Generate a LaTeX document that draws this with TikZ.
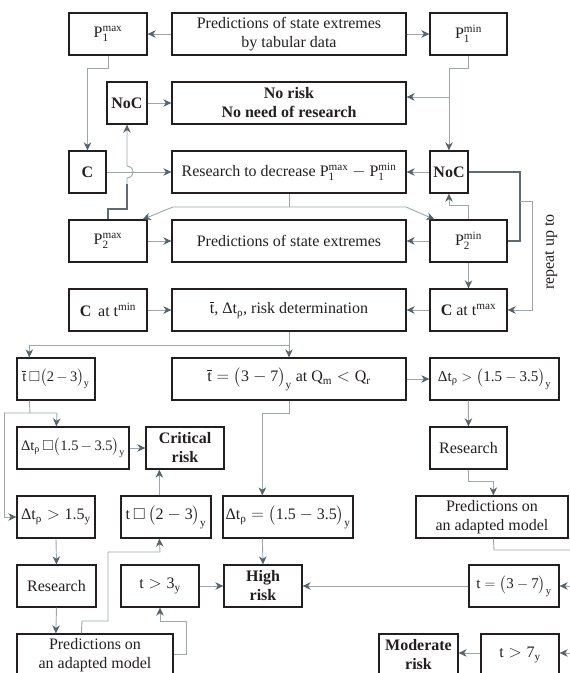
\documentclass[tikz,border=0pt]{standalone}
\usepackage{fontspec}
\usepackage{amsmath,amssymb}
\setmainfont{Liberation Serif}
\usetikzlibrary{arrows.meta,calc}
\definecolor{linec}{HTML}{9EA6AA}
\definecolor{thickc}{HTML}{5F6B73}
\definecolor{tipc}{HTML}{56636B}
\definecolor{boxc}{HTML}{231F20}
\newcommand\tn[1]{\text{#1}}
\newcommand\Dt{\tn{Δt}_{\tn{ρ}}}
\newcommand\Pp[2]{\tn{P}_{\tn{#1}}^{\tn{#2}}}
\newcommand\mi{\mkern-1mu-\mkern-1mu}
\newcommand\tb{\overline{\tn{t}}}
\begin{document}
\begin{tikzpicture}[x=1pt,y=-1pt,
  box/.style={draw=boxc, line width=1.3pt, minimum height=42pt, inner sep=0pt, align=center, font=\fontsize{16}{19}\selectfont, text=boxc},
  bbox/.style={box, font=\fontsize{16}{19}\selectfont\bfseries},
  tight/.style={box, font=\fontsize{14.5}{17}\selectfont},
  conn/.style={draw=linec, line width=0.9pt},
  thk/.style={draw=thickc, line width=2pt},
  arr/.style={-{Stealth[length=8pt,width=7.5pt,inset=2.5pt,color=tipc]}},
]
\useasboundingbox (0,0) rectangle (570,673);
\clip (0,0) rectangle (570,673);
% row 1
\node[box, minimum width=78pt] (p1max) at (108,34) {$\Pp{1}{max}$};
\node[box, minimum width=234pt] (predtop) at (289,34) {Predictions of state extremes\\by tabular data};
\node[box, minimum width=77pt] (p1min) at (468.5,34) {$\Pp{1}{min}$};
% row 2
\node[bbox, minimum width=40pt] (noc1) at (127,103) {NoC};
\node[bbox, minimum width=234pt] (norisk) at (289,103) {No risk\\No need of research};
% row 3
\node[bbox, minimum width=37pt] (cbox) at (87.5,172) {C};
\node[box, minimum width=234pt] (research) at (289,172) {Research to decrease $\Pp{1}{max} - \Pp{1}{min}$};
\node[bbox, minimum width=38pt] (noc2) at (449,172) {NoC};
% row 4
\node[box, minimum width=78pt] (p2max) at (108,241) {$\Pp{2}{max}$};
\node[box, minimum width=234pt] (pred2) at (289,241) {Predictions of state extremes};
\node[box, minimum width=77pt] (p2min) at (468.5,241) {$\Pp{2}{min}$};
% row 5
\node[box, minimum width=78pt] (ctmin) at (108,310) {\textbf{C}\, at t$^{\tn{min}}$};
\node[box, minimum width=234pt] (riskdet) at (289,310) {$\tb$, $\Dt$, risk determination};
\node[box, minimum width=77pt] (ctmax) at (468.5,310) {\textbf{C} at t$^{\tn{max}}$};
% row 6
\node[tight, minimum width=78pt] (tbar23) at (56,379) {$\tb\,\square\bigl(\tn{2}\mi\tn{3}\bigr)_{\tn{y}}$};
\node[box, minimum width=234pt] (tbar37) at (289,379) {$\tb=\bigl(\tn{3}-\tn{7}\bigr)_{\tn{y}}$ at $\tn{Q}_{\tn{m}}<\tn{Q}_{\tn{r}}$};
\node[box, minimum width=129pt, font=\fontsize{15}{18}\selectfont] (dtgt) at (494.5,379) {$\Dt>\bigl(\tn{1.5}-\tn{3.5}\bigr)_{\tn{y}}$};
% row 7
\node[tight, minimum width=112pt] (dtapprox) at (73,448) {$\Dt\,\square\bigl(\tn{1.5}\mi\tn{3.5}\bigr)_{\tn{y}}$};
\node[bbox, minimum width=78pt] (critical) at (185,448) {Critical\\risk};
\node[box, minimum width=77pt] (research2) at (468.5,448) {Research};
% row 8
\node[box, minimum width=78pt] (dtgt15) at (56,517) {$\Dt>\tn{1.5}_{\tn{y}}$};
\node[box, minimum width=90pt] (t23) at (166,517) {$\tn{t}\,\square\,\bigl(\tn{2}-\tn{3}\bigr)_{\tn{y}}$};
\node[box, minimum width=130pt] (dteq) at (288,517) {$\Dt=\bigl(\tn{1.5}-\tn{3.5}\bigr)_{\tn{y}}$};
\node[box, minimum width=152pt] (predR) at (492,517) {Predictions on\\an adapted model};
% row 9
\node[box, minimum width=79pt] (research3) at (56.5,586) {Research};
\node[box, minimum width=78pt] (tgt3) at (160,586) {$\tn{t}>\tn{3}_{\tn{y}}$};
\node[bbox, minimum width=78pt] (high) at (263,586) {High\\risk};
\node[box, minimum width=90pt, font=\fontsize{15}{18}\selectfont] (t37) at (514,586) {$\tn{t}=\bigl(\tn{3}-\tn{7}\bigr)_{\tn{y}}$};
% row 10
\node[box, minimum width=156pt] (predL) at (95,655) {Predictions on\\an adapted model};
\node[bbox, minimum width=79pt] (moderate) at (418.5,655) {Moderate\\risk};
\node[box, minimum width=78pt] (tgt7) at (520,655) {$\tn{t}>\tn{7}_{\tn{y}}$};
% side label
\node[rotate=90, font=\fontsize{16}{19}\selectfont, text=boxc] (rep) at (551,252) {repeat up to};

% connectors, top
\draw[conn,arr] (predtop.west) -- (p1max.east);
\draw[conn,arr] (predtop.east) -- (p1min.west);
\draw[conn,arr] (p1max.south) -- ++(0,13) -| (cbox.north);
\draw[conn,arr] (p1min.south) -- ++(0,13) -| (noc2.north);
\coordinate (br1) at (449,97);
\draw[conn,arr] (br1) -- (br1 -| norisk.east);
\draw[conn,arr] (noc1.east) -- (norisk.west);
\draw[conn,arr] (cbox.east) -- (research.west);
\draw[conn,arr] (noc2.west) -- (research.east);
% research split
\coordinate (rs) at (289,207);
\draw[conn] (research.south) -- (rs);
\draw[conn,arr] (rs) -- (173,207) -- ($(p2max.north east)+(-5,0)$);
\draw[conn,arr] (rs) -- (406,207) -- ($(p2min.north west)+(5,0)$);
% P2max -> NoC with hop
\coordinate (hk) at (127,184);
\draw[thk] (p2max.north) -- (108,209) -- (127,209) -- (hk);
\draw[conn,arr] (hk) -- (127,178) arc[start angle=-90,end angle=90,radius=6pt] -- (noc1.south);
\draw[conn,arr] (p2max.east) -- (pred2.west);
\draw[conn,arr] (p2min.west) -- (pred2.east);
% NoC loop and repeat
\draw[thk] (noc2.east) -- (520,172) -- (520,241) -- (p2min.east);
\coordinate (rp) at (520,201);
\draw[conn,arr] (rp) -- (532,201) -- (532,310) -- (ctmax.east);
\draw[conn,arr] (p2min.north) -- ++(0,-14) -| (noc2.south);
\draw[conn,arr] (p2min.south) -- (ctmax.north);
\draw[conn,arr] (ctmin.east) -- (riskdet.west);
\draw[conn,arr] (ctmax.west) -- (riskdet.east);
% risk determination split
\coordinate (h1) at (289,345);
\draw[conn] (riskdet.south) -- (h1);
\draw[conn,arr] (h1) -- (tbar37.north);
\draw[conn,arr] (h1) -| ($(tbar23.north west)+(13,0)$);
% left cascade
\coordinate (h2) at (30,413);
\draw[conn] ($(tbar23.south west)+(13,0)$) -- (h2);
\draw[conn,arr] (4,413) -- (57,413) -- ($(dtapprox.north west)+(40,0)$);
\draw[conn,arr] (4,413) -- (4,517) -- (dtgt15.west);
\draw[conn,arr] (dtapprox.east) -- (critical.west);
\draw[conn,arr] ($(t23.north west)+(39,0)$) -- ($(critical.south west)+(14,0)$);
% middle
\draw[conn,arr] (tbar37.east) -- (dtgt.west);
\draw[conn,arr] (tbar37.south) -- ++(0,13) -| ($(dteq.north west)+(40,0)$);
\draw[conn,arr] ($(dteq.south west)+(40,0)$) -- (high.north);
% right cascade
\draw[conn,arr] ($(dtgt.south west)+(39,0)$) -- (research2.north);
\draw[conn,arr] (research2.south) -- ++(0,12) -| ($(predR.north west)+(78,0)$);
\coordinate (rr) at (580,550);
\draw[conn] ($(predR.south west)+(78,0)$) -- (494,550) -- (rr) -- (580,655);
\draw[conn,arr] (580,586) -- (t37.east);
\draw[conn,arr] (580,653) -- ($(tgt7.east)+(0,-2)$);
\draw[conn,arr] (t37.west) -- (high.east);
\draw[conn,arr] (tgt3.east) -- (high.west);
\draw[conn,arr] ($(tgt7.west)+(0,-2)$) -- ($(moderate.east)+(0,-2)$);
% bottom left
\draw[conn,arr] (dtgt15.south) -- (research3.north);
\draw[conn,arr] (research3.south) -- ($(predL.north west)+(39.5,0)$);
\draw[conn,arr] ($(predL.north west)+(65,0)$) -- (82,621) -- (108,621) -- (108,552) -- (160,552) -- ($(t23.south west)+(39,0)$);
\draw[conn,arr] ($(predL.east)+(0,-1)$) -- (186,654) -- (186,621) -- (160,621) -- (tgt3.south);
\end{tikzpicture}
\end{document}
